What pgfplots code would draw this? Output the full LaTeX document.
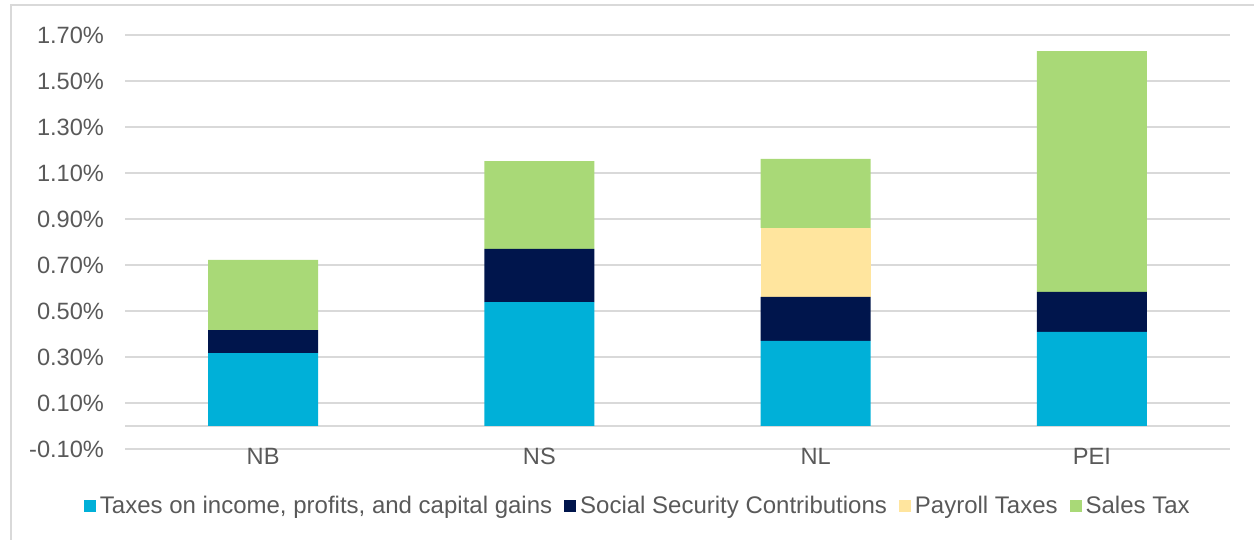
\documentclass[border=0pt]{standalone}
\usepackage{pgfplots}
\pgfplotsset{compat=1.18}
\usepackage{fontspec}
\setmainfont{Liberation Sans}

\definecolor{income}{RGB}{0,176,216}
\definecolor{ssc}{RGB}{0,21,76}
\definecolor{payroll}{RGB}{255,229,158}
\definecolor{sales}{RGB}{169,217,119}
\definecolor{gridc}{RGB}{217,217,217}
\definecolor{textc}{RGB}{89,89,89}
\newcommand\chartfont{\fontsize{11.8bp}{14.2bp}\selectfont}
\newcommand\legfont{\fontsize{12bp}{14.4bp}\selectfont}

\begin{document}
\begin{tikzpicture}
\useasboundingbox (0,0) rectangle (627bp,270bp);
% outer frame (only left and top edges visible)
\draw[line width=1bp, gridc] (5.5bp,-2bp) -- (5.5bp,267.5bp) -- (640bp,267.5bp);
\begin{axis}[
    at={(62.5bp,45.5bp)}, anchor=south west,
    scale only axis, width=552.5bp, height=207bp,
    ybar stacked, bar width=55bp,
    xmin=-0.5, xmax=3.5, ymin=-0.1, ymax=1.7,
    xtick={0,1,2,3}, xticklabels={NB,NS,NL,PEI},
    ytick={-0.1,0.1,0.3,0.5,0.7,0.9,1.1,1.3,1.5,1.7},
    extra y ticks={0}, extra y tick labels={},
    extra y tick style={grid=major},
    ymajorgrids, grid style={gridc, line width=1bp},
    axis line style={draw=none}, major tick length=0pt,
    /pgf/number format/assume math mode=true,
    yticklabel={\pgfmathprintnumber[fixed,fixed zerofill,precision=2]{\tick}\%},
    tick label style={font=\chartfont, text=textc},
    yticklabel style={xshift=-7bp},
    xticklabel style={anchor=north, yshift=4bp},
    legend style={at={(0.465,-0.1377)}, anchor=center, legend columns=4,
        draw=none, fill=none, font=\legfont, text=textc,
        /tikz/every even column/.append style={column sep=4bp}},
    legend image code/.code={\fill[#1] (0bp,-3bp) rectangle (6bp,3bp);},
]
\addplot[fill=income, draw=none] coordinates {(0,0.317) (1,0.539) (2,0.370) (3,0.409)};
\addplot[fill=ssc, draw=none] coordinates {(0,0.100) (1,0.231) (2,0.191) (3,0.174)};
\addplot[fill=payroll, draw=none] coordinates {(0,0) (1,0) (2,0.300) (3,0)};
\addplot[fill=sales, draw=none] coordinates {(0,0.305) (1,0.382) (2,0.300) (3,1.047)};
\legend{{Taxes on income, profits, and capital gains},{Social Security Contributions},{Payroll Taxes},{Sales Tax}}
\end{axis}
\end{tikzpicture}
\end{document}
